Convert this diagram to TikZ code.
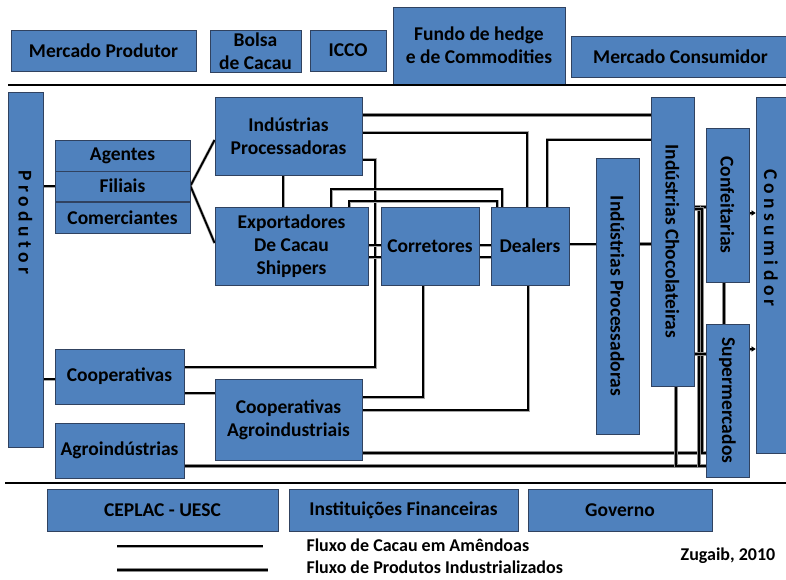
\documentclass[tikz,border=0pt]{standalone}
\usepackage{fontspec}
\setmainfont{Carlito}
\usepackage{tikz}
\usetikzlibrary{arrows.meta, backgrounds}
\definecolor{boxblue}{RGB}{79,129,189}
\definecolor{boxedge}{RGB}{48,66,96}
\newcommand{\boxfont}{\fontsize{19.5}{23}\selectfont\bfseries}
\newcommand{\legfont}{\fontsize{18}{20}\selectfont\bfseries}

\begin{document}
\begin{tikzpicture}[x=1pt, y=-1pt,
  box/.style={draw=boxedge, fill=boxblue, line width=0.8pt, inner sep=0, align=center, font=\boxfont},
  vtext/.style={rotate=-90, font=\boxfont},
  amend/.style={draw=black, line width=1.8pt, preaction={draw=black!35, line width=3pt}},
  indus/.style={draw=black, line width=1.3pt, preaction={draw=black!45, line width=4pt}},
  rule/.style={line width=2.4pt},
  tip/.style={-{Triangle[length=4pt, width=5pt]}},
]
\useasboundingbox (0,0) rectangle (786,580);

% Ambiente externo
\node[box, minimum width=185pt, minimum height=41pt] (mprod) at (103.5,50.5) {Mercado Produtor};
\node[box, minimum width=91pt, minimum height=42pt] (bolsa) at (255.5,51) {Bolsa\\de Cacau};
\node[box, minimum width=76pt, minimum height=41pt] (icco) at (348,50.5) {ICCO};
\node[box, minimum width=172pt, minimum height=77pt] (fundo) at (479,45.5) {Fundo de hedge\\e de Commodities};
\node[box, minimum width=219pt, minimum height=41pt] (mcons) at (680.5,56.5) {Mercado Consumidor};
\draw[rule] (8,85) -- (786,85);

% Produtor e intermediarios
\node[box, minimum width=35pt, minimum height=355pt] (produtor) at (25.5,269.5) {};
\node[vtext] at ([yshift=47pt]produtor.center) {P r o d u t o r};
\node[box, minimum width=135pt, minimum height=31pt] (agentes) at (122.5,155.5) {Agentes};
\node[box, minimum width=135pt, minimum height=30pt] (filiais) at (122.5,186) {Filiais};
\node[box, minimum width=135pt, minimum height=31pt] (comerc) at (122.5,217.5) {Comerciantes};
\node[box, minimum width=129pt, minimum height=55pt] (coop) at (119.5,376.5) {Cooperativas};
\node[box, minimum width=129pt, minimum height=55pt] (agro) at (119.5,450.5) {Agroindústrias};

% Processamento e comercio
\node[box, minimum width=147pt, minimum height=78pt] (indproc) at (288.5,136) {Indústrias\\Processadoras};
\node[box, minimum width=153pt, minimum height=78pt] (export) at (291.5,246) {Exportadores\\De Cacau\\Shippers};
\node[box, minimum width=98pt, minimum height=78pt] (corret) at (430,246) {Corretores};
\node[box, minimum width=78pt, minimum height=78pt] (dealers) at (530,246) {Dealers};
\node[box, minimum width=147pt, minimum height=81pt] (coopagro) at (288.5,419.5) {Cooperativas\\Agroindustriais};

% Industria e varejo
\node[box, minimum width=43pt, minimum height=276pt] (indprocv) at (617.5,296) {};
\node[vtext] at (indprocv.center) {Indústrias Processadoras};
\node[box, minimum width=43pt, minimum height=289pt] (indchoc) at (672.5,241.5) {};
\node[vtext] at (indchoc.center) {Indústrias Chocolateiras};
\node[box, minimum width=43pt, minimum height=154pt] (confeit) at (727.5,205) {};
\node[vtext] at (confeit.center) {Confeitarias};
\node[box, minimum width=43pt, minimum height=153pt] (superm) at (727.5,400.5) {};
\node[vtext] at (superm.center) {Supermercados};
\node[box, minimum width=32pt, minimum height=356pt] (consum) at (772,275) {};
\node[vtext] at ([xshift=-1pt, yshift=37pt]consum.center) {C o n s u m i d o r};

% Fluxos
\begin{scope}[on background layer]
\draw[indus] (indproc.east |- 0,115) -- (indchoc.west |- 0,115);
\draw[amend] (indproc.east |- 0,133) -| (dealers.north -| 527,0);
\draw[amend] (coop.east |- 0,367) -| (375,160) -- (indproc.east |- 0,160);
\draw[amend] (dealers.north -| 547,0) |- (indchoc.west |- 0,140);
\draw[amend] (export.north -| 331,0) |- (502,189) -- (dealers.north -| 502,0);
\draw[amend] (export.north -| 349,0) |- (497,201) -- (dealers.north -| 497,0);
\foreach \yy in {245,257} {
  \draw[amend] (export.east |- 0,\yy) -- (corret.west |- 0,\yy);
  \draw[amend] (corret.east |- 0,\yy) -- (dealers.west |- 0,\yy);
}
\draw[amend] (dealers.east |- 0,244) -- (indprocv.west |- 0,244);
\draw[indus] (indprocv.east |- 0,244) -- (indchoc.west |- 0,244);
\draw[amend] (indproc.south -| 283,0) -- (export.north -| 283,0);
\draw[amend] (filiais.east) -- (indproc.west |- 0,140);
\draw[amend] (filiais.east) -- (export.west |- 0,243);
\draw[amend] (produtor.east |- filiais) -- (filiais.west);
\draw[amend] (produtor.east |- 0,379) -- (coop.west |- 0,379);
\draw[amend] (coop.east |- 0,393) -- (coopagro.west |- 0,393);
\draw[amend] (coopagro.east |- 0,397) -| (corret.south -| 423,0);
\draw[amend] (coopagro.east |- 0,410) -| (dealers.south -| 528,0);
\draw[indus] (coopagro.east |- 0,453) -- (superm.west |- 0,453);
\draw[indus] (agro.east |- 0,466) -- (superm.west |- 0,466);
\draw[indus] (indchoc.south -| 676,0) |- (superm.west |- 0,466);
\draw[indus] (indchoc.east |- 0,207) -- (confeit.west |- 0,207);
\draw[indus] (indchoc.east |- 0,207) -| (699,466) -- (superm.west |- 0,466);
\draw[indus] (indchoc.east |- 0,209) -| (702,453) -- (superm.west |- 0,453);
\draw[indus] (indchoc.east |- 0,354) -- (superm.west |- 0,354);
\draw[indus] (confeit.south -| 724,0) -- (superm.north -| 724,0);
\draw[amend, tip] (confeit.east |- 0,213) -- (consum.west |- 0,213);
\draw[amend, tip] (superm.east |- 0,349) -- (consum.west |- 0,349);
\end{scope}

% Apoio institucional
\draw[rule] (5,483) -- (786,483);
\node[box, minimum width=231pt, minimum height=42pt] (ceplac) at (162.5,510) {CEPLAC - UESC};
\node[box, minimum width=229pt, minimum height=42pt] (instit) at (403.5,510) {Instituições Financeiras};
\node[box, minimum width=184pt, minimum height=42pt] (governo) at (620,510) {Governo};

% Legenda
\node[anchor=west, font=\legfont] (legamend) at (303,545) {Fluxo de Cacau em Amêndoas};
\node[anchor=west, font=\legfont] (legindus) at (303,567) {Fluxo de Produtos Industrializados};
\draw[amend] (117,546) -- (263,546);
\draw[indus] (117,570) -- (268,570);
\node[font=\legfont] (fonte) at (728,556) {Zugaib, 2010};

\end{tikzpicture}
\end{document}
